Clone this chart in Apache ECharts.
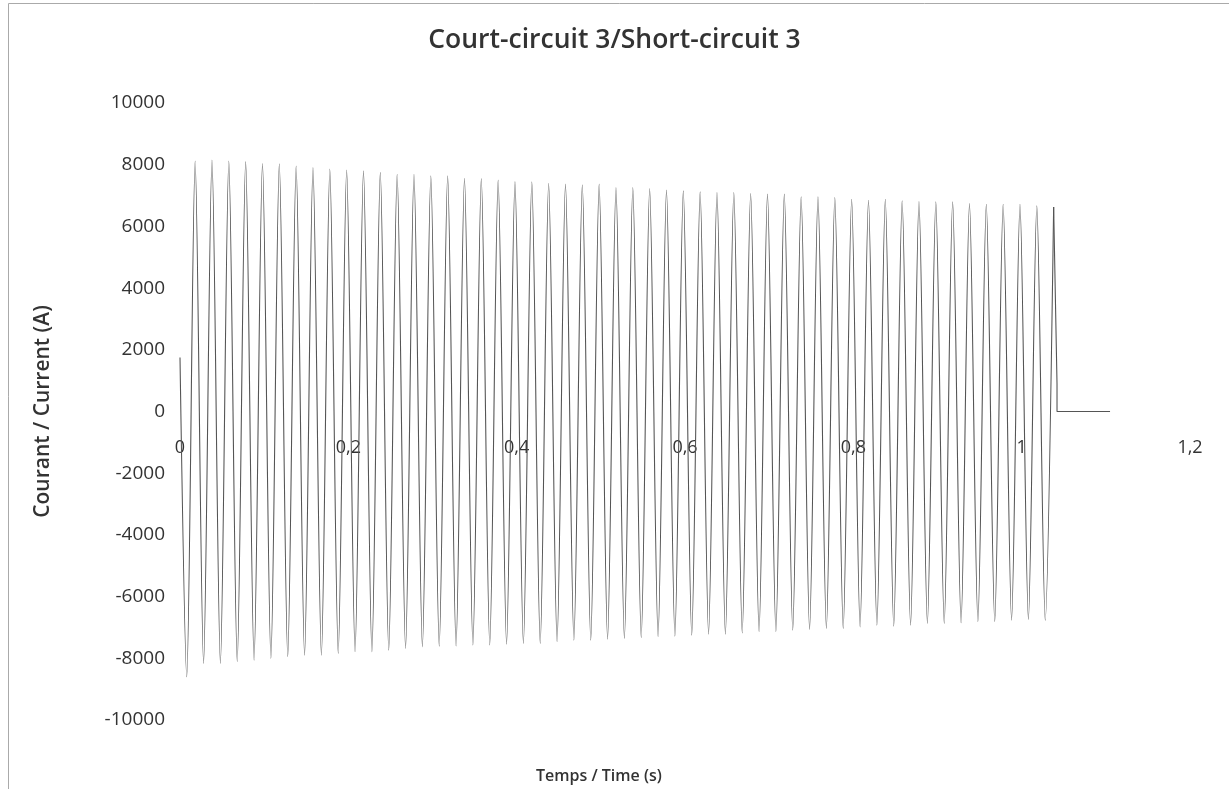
<!DOCTYPE html>
<html>
<head>
<meta charset="utf-8">
<script src="https://cdn.jsdelivr.net/npm/echarts@6/dist/echarts.min.js"></script>
<style>
html,body{margin:0;padding:0;background:#fff;}
#chart{width:1229px;height:789px;}
</style>
</head>
<body>
<div id="chart"></div>
<script>
const titleText = 'Court-circuit 3/Short-circuit 3';
const xAxisName = 'Temps / Time (s)';
const yAxisName = 'Courant / Current (A)';

const startPoint = [0, 1750];
const troughTimes = [0.008,0.028,0.048,0.068,0.088,0.108,0.128,0.148,0.168,0.188,0.208,0.228,0.248,0.268,0.288,0.308,0.328,0.348,0.368,0.388,0.408,0.428,0.448,0.468,0.488,0.508,0.528,0.548,0.568,0.588,0.608,0.628,0.648,0.668,0.688,0.708,0.728,0.748,0.768,0.788,0.808,0.828,0.848,0.868,0.888,0.908,0.928,0.948,0.968,0.988,1.008,1.028];
const troughValues = [-8600,-8165,-8165,-8110,-8060,-8005,-7950,-7900,-7900,-7840,-7790,-7790,-7735,-7680,-7630,-7605,
  -7600,-7570,-7570,-7540,-7520,-7520,-7465,-7410,-7410,-7380,-7355,-7335,-7300,-7280,-7250,-7215,-7215,-7175,-7140,
  -7140,-7090,-7065,-7035,-7035,-6980,-6925,-6960,-6925,-6870,-6870,-6850,-6815,-6815,-6765,-6740,-6765];
const peakTimes = [0.018,0.038,0.058,0.078,0.098,0.118,0.138,0.158,0.178,0.198,0.218,0.238,0.258,0.278,0.298,0.318,0.338,0.358,0.378,0.398,0.418,0.438,0.458,0.478,0.498,0.518,0.538,0.558,0.578,0.598,0.618,0.638,0.658,0.678,0.698,0.718,0.738,0.758,0.778,0.798,0.818,0.838,0.858,0.878,0.898,0.918,0.938,0.958,0.978,0.998,1.018,1.038];
const peakValues = [8120,8150,8120,8100,8040,8030,7960,7910,7860,7830,7800,7750,7690,7690,7640,7640,
  7560,7555,7500,7450,7445,7400,7370,7350,7370,7260,7260,7230,7175,7150,7120,7100,7100,7065,7045,
  7045,6960,6960,6935,6880,6850,6880,6830,6805,6800,6800,6740,6720,6720,6720,6670,6630];
const endTimes = [1.042, 1.042, 1.105];
const endValues = [900, 0, 0];

const xTicks = [0, 0.2, 0.4, 0.6, 0.8, 1, 1.2];
const yTicks = [-10000,-8000,-6000,-4000,-2000,0,2000,4000,6000,8000,10000];

const wave = [startPoint];
for (let k = 0; k < troughTimes.length; k++) {
  wave.push([troughTimes[k], troughValues[k]]);
  wave.push([peakTimes[k], peakValues[k]]);
}
const tail = [[peakTimes[peakTimes.length - 1], peakValues[peakValues.length - 1]]];
for (let i = 0; i < endTimes.length; i++) tail.push([endTimes[i], endValues[i]]);

const FONT = '"Open Sans", "Noto Sans", sans-serif';
const chart = echarts.init(document.getElementById('chart'), null, {renderer: 'canvas'});
chart.setOption({
  animation: false,
  backgroundColor: '#fff',
  title: {
    text: titleText, left: 'center', top: 22,
    textStyle: {fontFamily: FONT, fontSize: 26.5, fontWeight: 600, color: '#333'}
  },
  graphic: [{
    type: 'rect', silent: true,
    shape: {x: 8.5, y: 3.5, width: 1260, height: 820},
    style: {fill: 'none', stroke: '#aaa', lineWidth: 1}
  }, {
    type: 'text', silent: true, left: 536, top: 768,
    style: {text: xAxisName, font: '600 16px ' + FONT, fill: '#333'}
  }],
  grid: {left: 180, right: 39, top: 103, bottom: 69, containLabel: false, outerBoundsMode: 'none'},
  xAxis: {
    type: 'value', min: xTicks[0], max: xTicks[xTicks.length - 1], interval: 0.2,
    offset: -309,
    axisLine: {show: false, onZero: false},
    axisTick: {show: false},
    splitLine: {show: false},
    axisLabel: {
      margin: 28, fontFamily: FONT, fontSize: 18, color: '#333',
      formatter: v => String(Math.round(v * 10) / 10).replace('.', ',')
    }
  },
  yAxis: {
    type: 'value', min: yTicks[0], max: yTicks[yTicks.length - 1], interval: 2000,
    name: yAxisName, nameLocation: 'middle', nameGap: 126, nameRotate: 90,
    nameTextStyle: {fontFamily: FONT, fontSize: 21, fontWeight: 600, color: '#333'},
    axisLine: {show: false, onZero: false},
    axisTick: {show: false},
    splitLine: {show: false},
    axisLabel: {margin: 15, fontFamily: FONT, fontSize: 19, color: '#333', formatter: v => String(v)}
  },
  series: [{
    type: 'line', data: wave, showSymbol: false, smooth: 0.3,
    lineStyle: {color: '#555', width: 1.1}
  }, {
    type: 'line', data: tail, showSymbol: false, smooth: false,
    lineStyle: {color: '#555', width: 1.1}
  }]
});
</script>
</body>
</html>
